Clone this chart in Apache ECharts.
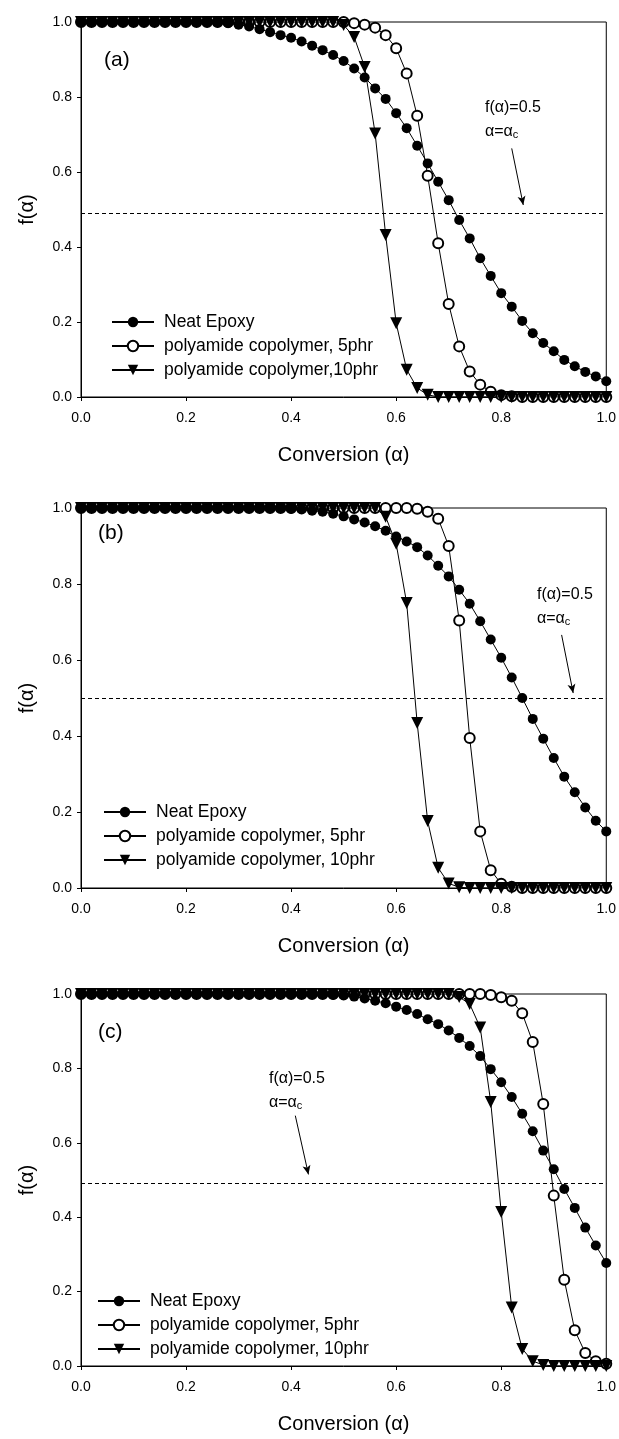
<!DOCTYPE html>
<html>
<head>
<meta charset="utf-8">
<script src="https://cdn.jsdelivr.net/npm/echarts@6/dist/echarts.min.js"></script>
<style>
  body { margin: 0; background: #fff; }
  .panel { width: 619px; height: 486px; }
</style>
</head>
<body>
<div id="chartA" class="panel"></div>
<div id="chartB" class="panel"></div>
<div id="chartC" class="panel" style="height:467px"></div>
<script>
// conversion alpha, shared by all three panels
var alpha = [0.00,0.02,0.04,0.06,0.08,0.10,0.12,0.14,0.16,0.18,0.20,0.22,0.24,0.26,0.28,0.30,0.32,0.34,0.36,0.38,
             0.40,0.42,0.44,0.46,0.48,0.50,0.52,0.54,0.56,0.58,0.60,0.62,0.64,0.66,0.68,0.70,0.72,0.74,0.76,0.78,
             0.80,0.82,0.84,0.86,0.88,0.90,0.92,0.94,0.96,0.98,1.00];

// (a)
var neatA = [1,1,1,1,1,1,1,1,1,1,1,1,1,0.999,0.997,0.993,0.988,0.981,0.973,0.965,
             0.958,0.948,0.937,0.925,0.912,0.896,0.876,0.852,0.823,0.795,0.757,0.717,0.670,0.623,0.574,0.525,0.472,0.423,0.370,0.323,
             0.277,0.241,0.203,0.170,0.144,0.122,0.099,0.082,0.067,0.055,0.042];
var pa5A  = [1,1,1,1,1,1,1,1,1,1,1,1,1,1,1,1,1,1,1,1,
             1,1,1,1,1,1,0.997,0.993,0.985,0.965,0.930,0.863,0.750,0.590,0.410,0.248,0.135,0.068,0.033,0.014,
             0.005,0.002,0,0,0,0,0,0,0,0,0];
var pa10A = [1,1,1,1,1,1,1,1,1,1,1,1,1,1,1,1,1,1,1,1,
             1,1,1,1,1,0.992,0.960,0.880,0.703,0.432,0.197,0.073,0.024,0.006,0,0,0,0,0,0,
             0,0,0,0,0,0,0,0,0,0,0];
// (b)
var neatB = [1,1,1,1,1,1,1,1,1,1,1,1,1,1,1,1,1,1,1,1,
             0.998,0.996,0.993,0.990,0.985,0.978,0.970,0.962,0.952,0.940,0.925,0.912,0.897,0.875,0.848,0.820,0.785,0.748,0.702,0.654,
             0.606,0.554,0.500,0.445,0.393,0.342,0.293,0.252,0.212,0.177,0.149];
var pa5B  = [1,1,1,1,1,1,1,1,1,1,1,1,1,1,1,1,1,1,1,1,
             1,1,1,1,1,1,1,1,1,1,1,1,0.998,0.990,0.972,0.900,0.704,0.395,0.149,0.047,
             0.011,0.003,0,0,0,0,0,0,0,0,0];
var pa10B = [1,1,1,1,1,1,1,1,1,1,1,1,1,1,1,1,1,1,1,1,
             1,1,1,1,1,1,1,1,1,0.977,0.906,0.750,0.434,0.176,0.053,0.012,0.002,0,0,0,
             0,0,0,0,0,0,0,0,0,0,0];
// (c)
var neatC = [1,1,1,1,1,1,1,1,1,1,1,1,1,1,1,1,1,1,1,1,
             1,1,1,0.999,0.998,0.996,0.993,0.988,0.982,0.975,0.966,0.957,0.946,0.932,0.919,0.902,0.882,0.860,0.833,0.798,
             0.763,0.723,0.678,0.631,0.579,0.529,0.476,0.425,0.372,0.324,0.277];
var pa5C  = [1,1,1,1,1,1,1,1,1,1,1,1,1,1,1,1,1,1,1,1,
             1,1,1,1,1,1,1,1,1,1,1,1,1,1,1,1,1,1,1,0.997,
             0.991,0.982,0.948,0.871,0.704,0.458,0.232,0.096,0.035,0.013,0.006];
var pa10C = [1,1,1,1,1,1,1,1,1,1,1,1,1,1,1,1,1,1,1,1,
             1,1,1,1,1,1,1,1,1,1,1,1,1,1,1,1,0.992,0.973,0.910,0.710,
             0.414,0.157,0.046,0.013,0.003,0,0,0,0,0,0];

var FONT = '"Liberation Sans", Arial, sans-serif';

function pairs(ys) {
    return alpha.map(function (x, i) { return [x, ys[i]]; });
}

function drawPanel(id, p) {
    var chart = echarts.init(document.getElementById(id));
    var names = ['Neat Epoxy', 'polyamide copolymer, 5phr', p.name10];
    var lineStyle = { color: '#000', width: 1 };
    chart.setOption({
        animation: false,
        textStyle: { fontFamily: FONT, color: '#000' },
        grid: { left: 81, width: 527, top: 22, height: p.h, show: true, borderColor: '#000', borderWidth: 1 },
        legend: {
            orient: 'vertical', left: p.legLeft, top: p.legTop, padding: 0,
            itemWidth: 42, itemHeight: 13, itemGap: 6,
            textStyle: { fontSize: 17.5, color: '#000', fontFamily: FONT, padding: [0, 0, 0, 5] },
            data: names
        },
        xAxis: {
            type: 'value', min: 0, max: 1, interval: 0.2,
            name: 'Conversion (α)', nameLocation: 'middle', nameGap: 48,
            nameTextStyle: { fontSize: 20, color: '#000', fontFamily: FONT },
            axisLine: { lineStyle: { color: '#000', width: 1 } },
            axisTick: { length: 4, lineStyle: { color: '#000' } },
            axisLabel: { fontSize: 14, color: '#000', margin: 14, fontFamily: FONT,
                         formatter: function (v) { return v.toFixed(1); } },
            splitLine: { show: false }
        },
        yAxis: {
            type: 'value', min: 0, max: 1, interval: 0.2,
            name: 'f(α)', nameLocation: 'middle', nameGap: 44, nameRotate: 90,
            nameTextStyle: { fontSize: 20, color: '#000', fontFamily: FONT },
            axisLine: { lineStyle: { color: '#000', width: 1 } },
            axisTick: { length: 4, lineStyle: { color: '#000' } },
            axisLabel: { fontSize: 14, color: '#000', margin: 9, fontFamily: FONT,
                         formatter: function (v) { return v.toFixed(1); } },
            splitLine: { show: false }
        },
        graphic: [
            { type: 'text', left: p.tagX, top: p.tagY, style: { text: p.tag, font: '21px ' + FONT, fill: '#000' } },
            { type: 'text', left: p.noteX, top: p.noteY, style: { text: 'f(α)=0.5', font: '16px ' + FONT, fill: '#000' } },
            { type: 'text', left: p.noteX, top: p.noteY + 24, style: {
                text: 'α=α{sub|c}', font: '16px ' + FONT, fill: '#000',
                rich: { sub: { fontSize: 11, fontFamily: FONT, fill: '#000', padding: [6, 0, 0, 0] } } } }
        ],
        series: [
            {
                name: names[0], type: 'line', data: pairs(p.neat), z: 4,
                symbol: 'circle', symbolSize: 10, showAllSymbol: true,
                itemStyle: { color: '#000' }, lineStyle: lineStyle,
                markLine: {
                    silent: true, animation: false, symbol: 'none', label: { show: false },
                    data: [
                        { yAxis: p.dash, lineStyle: { color: '#000', width: 1, type: [4, 3] } },
                        [
                            { coord: p.arrow[0], symbol: 'none', lineStyle: { color: '#000', width: 1, type: 'solid' } },
                            { coord: p.arrow[1], symbol: 'arrow', symbolSize: [6, 9] }
                        ]
                    ]
                }
            },
            {
                name: names[1], type: 'line', data: pairs(p.pa5), z: 2,
                symbol: 'emptyCircle', symbolSize: 10, showAllSymbol: true,
                itemStyle: { color: '#000', borderColor: '#000', borderWidth: 1 }, lineStyle: lineStyle
            },
            {
                name: names[2], type: 'line', data: pairs(p.pa10), z: 3,
                symbol: 'triangle', symbolRotate: 180, symbolSize: 12, showAllSymbol: true,
                itemStyle: { color: '#000' }, lineStyle: lineStyle
            }
        ]
    });
}

drawPanel('chartA', {
    neat: neatA, pa5: pa5A, pa10: pa10A, name10: 'polyamide copolymer,10phr', h: 375,
    legLeft: 111, legTop: 313, tag: '(a)', tagX: 104, tagY: 50,
    noteX: 485, noteY: 100, dash: 0.49, arrow: [[0.82, 0.663], [0.842, 0.512]]
});
drawPanel('chartB', {
    neat: neatB, pa5: pa5B, pa10: pa10B, name10: 'polyamide copolymer, 10phr', h: 380,
    legLeft: 103, legTop: 317, tag: '(b)', tagX: 98, tagY: 37,
    noteX: 537, noteY: 101, dash: 0.5, arrow: [[0.915, 0.666], [0.937, 0.513]]
});
drawPanel('chartC', {
    neat: neatC, pa5: pa5C, pa10: pa10C, name10: 'polyamide copolymer, 10phr', h: 379,
    legLeft: 97, legTop: 320, tag: '(c)', tagX: 98, tagY: 50,
    noteX: 269, noteY: 99, dash: 0.493, arrow: [[0.408, 0.673], [0.433, 0.515]]
});
</script>
</body>
</html>
